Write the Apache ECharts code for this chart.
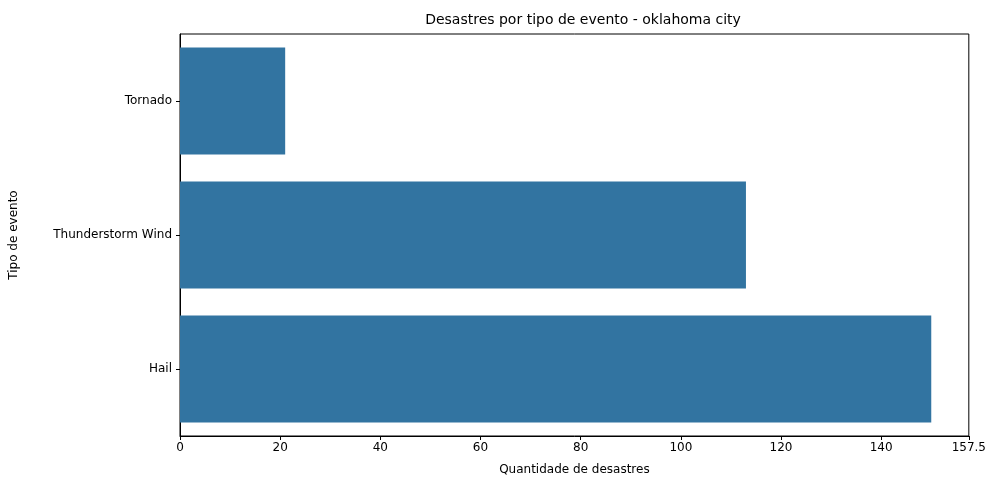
<!DOCTYPE html>
<html>
<head>
<meta charset="utf-8">
<script src="https://cdn.jsdelivr.net/npm/echarts@6/dist/echarts.min.js"></script>
<style>html,body{margin:0;padding:0;background:#fff}#chart{width:989px;height:490px}</style>
</head>
<body>
<div id="chart"></div>
<script>
var categories = ['Tornado', 'Thunderstorm Wind', 'Hail'];
var counts = [21, 113, 150];

var chart = echarts.init(document.getElementById('chart'));
var font = 'DejaVu Sans';
chart.setOption({
  animation: false,
  textStyle: { fontFamily: font },
  title: {
    text: 'Desastres por tipo de evento - oklahoma city',
    left: 578, top: 8, textAlign: 'center',
    textStyle: { fontFamily: font, fontSize: 14, fontWeight: 'normal', color: '#000' }
  },
  grid: { left: 177, right: 9, top: 34, bottom: 54, show: true, borderColor: '#000', borderWidth: 1 },
  xAxis: {
    type: 'value', min: 0, max: 157.5, interval: 20,
    name: 'Quantidade de desastres', nameLocation: 'middle', nameGap: 28,
    nameTextStyle: { fontSize: 12, color: '#000' },
    splitLine: { show: false },
    showMaxLabel: false,
    axisLine: { show: true, lineStyle: { color: '#000' } },
    axisTick: { show: true, length: 4, lineStyle: { color: '#000' } },
    axisLabel: { color: '#000', fontSize: 12, margin: 6 }
  },
  yAxis: {
    type: 'category', data: categories, inverse: true,
    name: 'Tipo de evento', nameLocation: 'middle', nameGap: 160, nameRotate: 90,
    nameTextStyle: { fontSize: 12, color: '#000' },
    axisLine: { show: true, lineStyle: { color: '#000' } },
    axisTick: { show: true, alignWithLabel: true, length: 4, lineStyle: { color: '#000' } },
    axisLabel: { color: '#000', fontSize: 12, margin: 8 }
  },
  series: [{
    type: 'bar', data: counts, barWidth: '80%',
    itemStyle: { color: '#3274a1' }
  }]
});
</script>
</body>
</html>
